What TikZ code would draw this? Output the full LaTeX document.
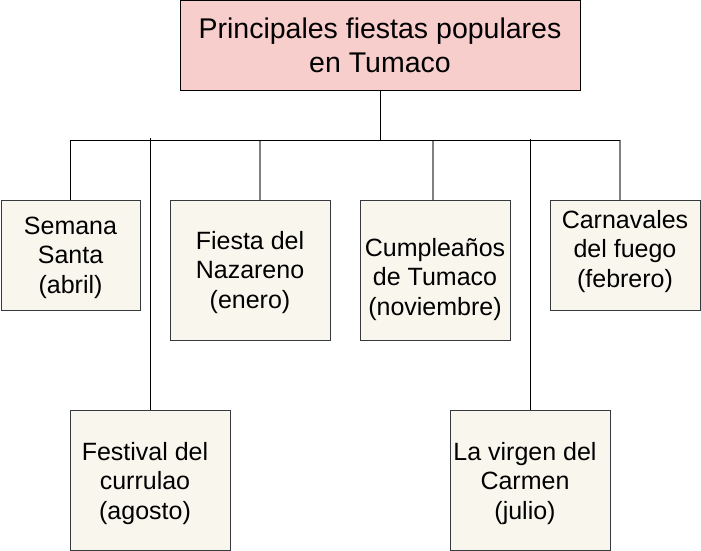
\documentclass[tikz,border=0pt]{standalone}
\usepackage{fontspec}
\setmainfont{Liberation Sans}
\definecolor{pinkfill}{HTML}{F8CECC}
\definecolor{beigefill}{HTML}{F9F7ED}
\definecolor{boxline}{HTML}{36393D}
\definecolor{gline}{HTML}{808080}
\newcommand\boxtxt[3]{\raisebox{#2}[\height][\depth]{\begin{tabular}{@{}c@{}}#3\end{tabular}}\hspace*{#1}}
\begin{document}
\begin{tikzpicture}[x=1pt,y=-1pt,
  topbox/.style={draw=black, fill=pinkfill, line width=1pt, inner sep=0pt, align=center,
    font=\fontsize{28.5}{34}\selectfont},
  itembox/.style={draw=boxline, fill=beigefill, line width=1pt, inner sep=0pt,
    font=\fontsize{25}{29.5}\selectfont},
  conn/.style={draw=black, line width=1pt},
  gconn/.style={draw=gline, line width=1.2pt}]
\useasboundingbox (0,0) rectangle (701,551);
\node[topbox, minimum width=400pt, minimum height=89pt] (top) at (380,45.5) {Principales fiestas populares\\en Tumaco};
\node[itembox, minimum width=139pt, minimum height=110pt] (sem) at (70.5,255) {\boxtxt{0pt}{-3pt}{Semana\\Santa\\(abril)}};
\node[itembox, minimum width=160pt, minimum height=140pt] (naz) at (250,270) {\boxtxt{0pt}{-3pt}{Fiesta del\\Nazareno\\(enero)}};
\node[itembox, minimum width=150pt, minimum height=140pt] (cum) at (435,270) {\boxtxt{0pt}{-10pt}{Cumpleaños\\de Tumaco\\(noviembre)}};
\node[itembox, minimum width=150pt, minimum height=110pt] (car) at (625,255) {\boxtxt{0pt}{3pt}{Carnavales\\del fuego\\(febrero)}};
\node[itembox, minimum width=160pt, minimum height=140pt] (fes) at (150,480) {\boxtxt{10pt}{-4pt}{Festival del\\currulao\\(agosto)}};
\node[itembox, minimum width=160pt, minimum height=140pt] (vir) at (530,480) {\boxtxt{10pt}{-4pt}{La virgen del\\Carmen\\(julio)}};
\coordinate (hub) at (380,140);
\coordinate (busend) at (620,140);
\draw[gconn] (busend) -- ([xshift=-5pt]car.north);
\draw[gconn] ([xshift=10pt]naz.north |- hub) -- ([xshift=10pt]naz.north);
\draw[gconn] ([xshift=-2pt]cum.north |- hub) -- ([xshift=-2pt]cum.north);
\draw[conn] (top.south) -- (hub);
\draw[conn] (sem.north) |- (busend);
\draw[conn] ([yshift=2pt]fes.north |- hub) -- (fes.north);
\draw[conn] ([yshift=1pt]vir.north |- hub) -- (vir.north);
\end{tikzpicture}
\end{document}
